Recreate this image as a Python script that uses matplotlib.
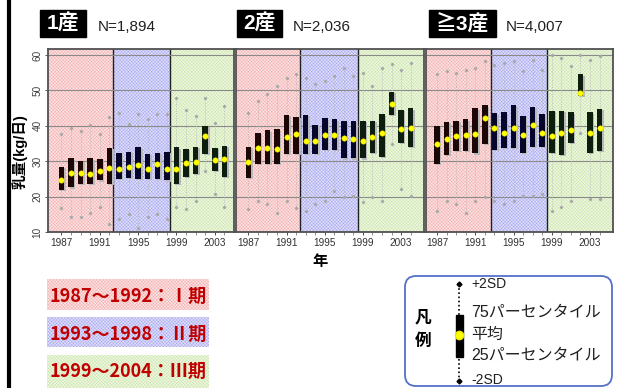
import matplotlib
matplotlib.use("Agg")
import matplotlib.pyplot as plt
from matplotlib.patches import Rectangle, FancyBboxPatch
from matplotlib.lines import Line2D
from matplotlib.transforms import IdentityTransform
import numpy as np

plt.rcParams["font.family"] = ["Liberation Sans", "Noto Sans CJK JP"]
plt.rcParams["hatch.linewidth"] = 0.3

years = list(range(1987, 2005))

# 1st lactation (N=1,894): mean, quartiles and mean +/- 2SD of daily milk yield (kg)
mean_p1 = [24.6, 26.7, 26.7, 26.5, 27.2, 28.2, 27.8, 28.4, 29.0, 27.7, 29.2, 27.7, 27.9, 29.6, 29.9, 37.0, 30.2, 30.5]
q75_p1 = [28.4, 30.8, 30.1, 30.8, 30.6, 33.8, 32.3, 32.6, 33.9, 32.0, 32.3, 32.6, 33.9, 33.4, 34.0, 40.0, 33.7, 34.3]
q25_p1 = [21.8, 22.6, 23.5, 23.5, 24.6, 23.5, 25.0, 25.2, 25.0, 24.9, 24.9, 24.6, 23.7, 25.6, 26.5, 32.0, 27.3, 25.6]
sdhi_p1 = [37.8, 39.5, 38.4, 40.2, 37.8, 42.5, 43.7, 40.4, 43.2, 41.8, 43.2, 43.2, 47.9, 44.6, 42.8, 47.9, 40.9, 45.6]
sdlo_p1 = [16.7, 14.1, 14.1, 15.3, 17.0, 12.3, 13.7, 15.0, 11.1, 14.1, 15.0, 13.7, 17.0, 16.5, 18.8, 27.3, 20.7, 17.0]

# 2nd lactation (N=2,036)
mean_p2 = [29.9, 33.6, 33.8, 33.4, 36.9, 37.6, 35.8, 35.7, 37.3, 37.3, 36.5, 36.3, 35.8, 36.7, 37.9, 46.3, 39.0, 39.3]
q75_p2 = [34.0, 38.0, 38.7, 39.0, 43.1, 42.5, 43.0, 40.2, 42.1, 41.8, 41.4, 41.4, 41.4, 41.4, 43.2, 49.5, 44.5, 44.9]
q25_p2 = [25.2, 29.2, 29.2, 29.2, 32.0, 32.0, 32.0, 32.0, 33.1, 33.1, 30.8, 30.8, 30.8, 32.3, 31.3, 43.0, 35.2, 34.1]
sdhi_p2 = [43.7, 47.0, 48.9, 51.2, 53.6, 54.5, 53.6, 51.7, 52.6, 54.0, 56.4, 54.0, 55.0, 51.2, 56.4, 57.5, 55.9, 57.8]
sdlo_p2 = [16.5, 18.8, 17.9, 15.5, 18.8, 16.9, 16.0, 17.9, 18.8, 21.6, 19.8, 20.2, 18.4, 19.8, 18.8, 35.0, 22.1, 20.2]

# 3rd and later lactations (N=4,007)
mean_p3 = [35.0, 36.4, 37.1, 37.4, 37.8, 42.2, 39.3, 38.1, 39.3, 37.4, 40.3, 38.1, 37.0, 38.0, 38.7, 49.3, 37.9, 39.3]
q75_p3 = [40.0, 41.2, 41.5, 41.8, 44.9, 45.8, 43.5, 43.8, 45.8, 42.7, 45.3, 43.2, 44.2, 44.2, 43.8, 54.5, 43.8, 44.8]
q25_p3 = [29.3, 31.8, 32.9, 32.9, 32.2, 35.0, 33.2, 33.8, 33.8, 32.4, 34.0, 34.1, 32.4, 31.8, 35.2, 48.4, 32.3, 32.9]
sdhi_p3 = [54.5, 55.4, 55.0, 55.9, 56.4, 58.2, 57.3, 57.7, 58.2, 55.4, 58.7, 55.9, 60.1, 59.2, 56.9, 60.0, 58.7, 59.7]
sdlo_p3 = [16.0, 18.8, 17.9, 15.5, 18.8, 19.8, 18.8, 17.9, 18.8, 20.2, 20.2, 20.7, 16.0, 17.0, 18.8, 38.0, 19.3, 19.3]

panel_titles = ["1産", "2産", "≧3産"]
panel_counts = ["N=1,894", "N=2,036", "N=4,007"]
period_labels = ["1987〜1992：Ⅰ期", "1993〜1998：Ⅱ期", "1999〜2004：Ⅲ期"]
period_first_year = [1987, 1993, 1999]
tick_years = [1987, 1991, 1995, 1999, 2003]
y_ticks = [10, 20, 30, 40, 50, 60]
legend_items = ["+2SD", "75パーセンタイル", "平均", "25パーセンタイル", "-2SD"]

W, H = 617, 388
fig = plt.figure(figsize=(W / 100, H / 100), dpi=100)
fig.patch.set_facecolor("white")


def fx(x):
    return x / W


def fy(y):
    return 1 - y / H


# period shading: (face, hatch colour), bar tint
period_face = [("#fbe3e3", "#f3a8a8"), ("#dfdff9", "#a2a2f2"), ("#eff7e4", "#c6e3a2")]
period_bar = ["#1c0606", "#06062c", "#0e1e0e"]

panel_px = [(48, 234), (236, 424), (426, 613)]
panel_xlim = [(1985.6, 2005.0), (1985.7, 2005.4), (1985.85, 2005.4)]
panel_split = [(1992.35, 1998.3), (1992.45, 1998.5), (1992.6, 1998.55)]
top_px, bot_px = 49, 232

data = [
    (mean_p1, q25_p1, q75_p1, sdlo_p1, sdhi_p1),
    (mean_p2, q25_p2, q75_p2, sdlo_p2, sdhi_p2),
    (mean_p3, q25_p3, q75_p3, sdlo_p3, sdhi_p3),
]

yrs = np.array(years)
for i, (x0, x1) in enumerate(panel_px):
    ax = fig.add_axes([fx(x0), fy(bot_px), (x1 - x0) / W, (bot_px - top_px) / H])
    xl = panel_xlim[i]
    s1, s2 = panel_split[i]
    ax.set_xlim(*xl)
    ax.set_ylim(10, 61.7)
    edges = [xl[0], s1, s2, xl[1]]
    for k in range(3):
        face, hcol = period_face[k]
        ax.axvspan(edges[k], edges[k + 1], facecolor=face, edgecolor=hcol,
                   hatch="xxxxxxxxxx", lw=0, zorder=0)
    for s in (s1, s2):
        ax.axvline(s, color="#202020", lw=1.0, zorder=1)
    for g in [20, 30, 40, 50, 60]:
        ax.axhline(g, color="#8a8a8a", lw=0.8, zorder=1)

    mean, q25, q75, lo, hi = [np.array(a) for a in data[i]]
    ax.vlines(yrs, lo, hi, colors="#b4b4b4", linestyles=(0, (1, 1.8)), lw=0.6, zorder=2)
    ax.plot(yrs, hi, "D", ms=1.2, color="#a8a8a8", zorder=2)
    ax.plot(yrs, lo, "D", ms=1.2, color="#a8a8a8", zorder=2)
    bar_cols = [period_bar[0] if y < period_first_year[1] else
                period_bar[1] if y < period_first_year[2] else period_bar[2] for y in years]
    ax.bar(yrs + 0.17, q75 - q25, bottom=q25 - 0.35, width=0.58,
           color="#b8b8b8", zorder=3, lw=0)
    ax.bar(yrs, q75 - q25, bottom=q25, width=0.58, color=bar_cols, zorder=4, lw=0)
    ax.plot(yrs, mean, "o", ms=3.9, mfc="#ffff00", mec="#e8e800", mew=0.3, zorder=5)

    for sp in ax.spines.values():
        sp.set_color("#505050")
        sp.set_linewidth(1.3)
    ax.set_xticks(tick_years)
    ax.set_xticks(years, minor=True)
    ax.tick_params(axis="x", which="major", length=2.5, width=0.6, labelsize=7.2,
                   colors="#303030", pad=1.5)
    ax.tick_params(axis="x", which="minor", length=1.8, width=0.5, colors="#606060")
    if i == 0:
        ax.set_yticks(y_ticks)
        ax.tick_params(axis="y", length=2.5, width=0.6, labelsize=7.2, colors="#404040",
                       labelrotation=90, pad=1.5)
        for t in ax.get_yticklabels():
            t.set_va("center")
    else:
        ax.set_yticks([])

# left rule
fig.add_artist(Line2D([fx(9), fx(9)], [0, 1], color="black", lw=3))

# panel headers
title_boxes = [(40, 86), (237, 282), (429, 496)]
count_x = [98, 293, 506]
for (bx0, bx1), title, cnt, cx in zip(title_boxes, panel_titles, panel_counts, count_x):
    fig.add_artist(Rectangle((fx(bx0), fy(37)), (bx1 - bx0) / W, 27 / H,
                             transform=fig.transFigure, color="black"))
    fig.text(fx((bx0 + bx1) / 2), fy(24), title, color="white", fontsize=15,
             fontweight="bold", ha="center", va="center")
    fig.text(fx(cx), fy(27), cnt, fontsize=11, ha="left", va="center", color="#202020")

# axis titles
fig.text(fx(20), fy(152), "乳量(kg/日)", rotation=90, fontsize=10.5,
         fontweight="bold", ha="center", va="center")
fig.text(fx(320), fy(262), "年", fontsize=11, fontweight="bold", ha="center", va="center")

# period key
key_boxes = [(279, 310), (317, 347), (355, 390)]
key_text_y = [296, 334, 371]
for k, ((y0, y1), lab, ty) in enumerate(zip(key_boxes, period_labels, key_text_y)):
    face, hcol = period_face[k]
    fig.add_artist(Rectangle((fx(47), fy(y1)), 162 / W, (y1 - y0) / H,
                             transform=fig.transFigure, facecolor=face, edgecolor=hcol,
                             hatch="xxxxxxxxxx", lw=0))
    fig.text(fx(128), fy(ty), lab, fontsize=13, fontweight="bold", color="#c00000",
             ha="center", va="center",
             family=["Liberation Sans Narrow", "Noto Sans CJK JP"])

# symbol key
fig.add_artist(FancyBboxPatch((405, H - 386), 207, 110,
                              boxstyle="round,pad=0,rounding_size=11",
                              transform=IdentityTransform(), facecolor="white",
                              edgecolor="#5570c8", lw=1.3))
fig.text(fx(423), fy(318), "凡", fontsize=12, fontweight="bold", ha="center", va="center")
fig.text(fx(423), fy(341), "例", fontsize=12, fontweight="bold", ha="center", va="center")
fig.add_artist(Line2D([fx(459), fx(459)], [fy(284), fy(381)], color="black", lw=1.2,
                      ls=(0, (1, 1.5))))
fig.add_artist(Line2D([fx(459), fx(459)], [fy(284), fy(381)], color="black", lw=0,
                      marker="D", ms=2.5))
fig.add_artist(Rectangle((fx(456), fy(357)), 6.5 / W, 42 / H,
                         transform=fig.transFigure, color="black"))
fig.add_artist(Line2D([fx(459.2)], [fy(335)], marker="o", ms=6, mfc="#ffff00",
                      mec="#e8e800", lw=0))
legend_y = [284, 312, 334, 355, 380]
for lab, ly in zip(legend_items, legend_y):
    sz = 10 if "SD" in lab else 11.5
    fig.text(fx(471), fy(ly), lab, fontsize=sz, ha="left", va="center", color="#202020")

fig.savefig("out.png", dpi=100)
